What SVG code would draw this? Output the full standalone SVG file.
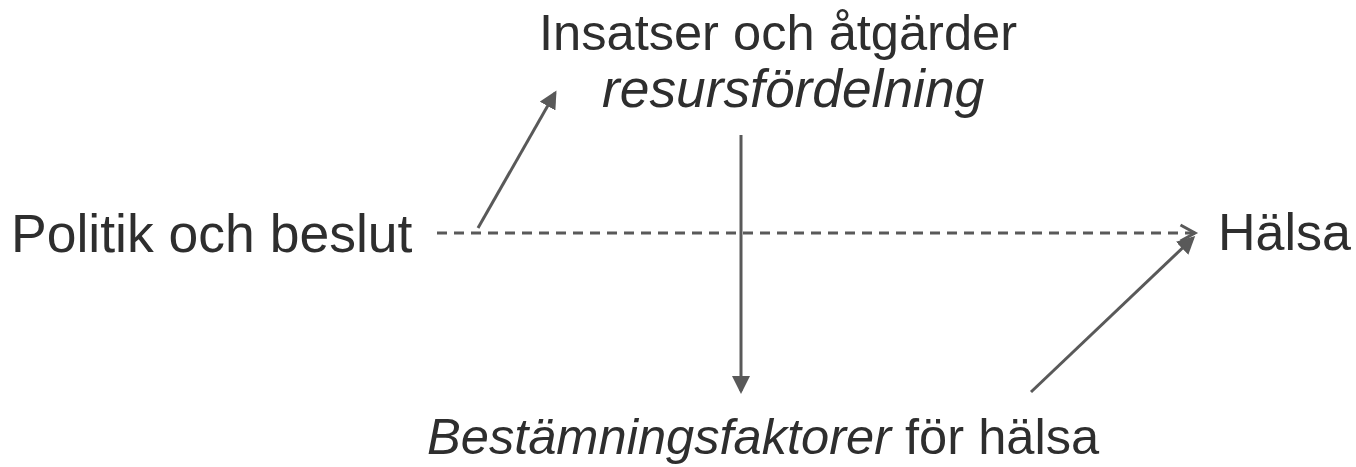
<svg xmlns="http://www.w3.org/2000/svg" width="1356" height="467" viewBox="0 0 1356 467">
<style>
text{font-family:"Liberation Sans",Arial,sans-serif;font-size:52px;fill:#2e2e2e}
.it{font-style:italic}
.ln{stroke:#595959;stroke-width:3;fill:none}
.dash{stroke-dasharray:10 7}
</style>
<defs>
<marker id="tri" markerWidth="6" markerHeight="6" refX="5" refY="3" orient="auto" markerUnits="strokeWidth">
<path d="M0,0 L6,3 L0,6 Z" fill="#595959"/>
</marker>
<marker id="open" markerWidth="8" markerHeight="10" refX="6.5" refY="5" orient="auto" markerUnits="userSpaceOnUse" overflow="visible">
<path d="M-8,-3 L6.5,5 L-8,13" fill="none" stroke="#595959" stroke-width="3"/>
</marker>
</defs>
<g id="connectors">
<line class="ln dash" x1="437" y1="233" x2="1195" y2="233" marker-end="url(#open)"/>
<line class="ln" x1="478" y1="228" x2="555" y2="93" marker-end="url(#tri)"/>
<line class="ln" x1="741" y1="135" x2="741" y2="391" marker-end="url(#tri)"/>
<line class="ln" x1="1031" y1="392" x2="1193" y2="238" marker-end="url(#tri)"/>
</g>
<g id="politik"><text x="11" y="252" style="font-size:53.5px">Politik och beslut</text></g>
<g id="insatser">
<text x="539" y="50" style="font-size:50.6px">Insatser och åtgärder</text>
<text class="it" x="602" y="107" style="font-size:53.3px">resursfördelning</text>
</g>
<g id="halsa"><text x="1218" y="250">Hälsa</text></g>
<g id="bestamning"><text x="427" y="454" style="font-size:50.6px"><tspan class="it">Bestämningsfaktorer</tspan> för hälsa</text></g>
</svg>
